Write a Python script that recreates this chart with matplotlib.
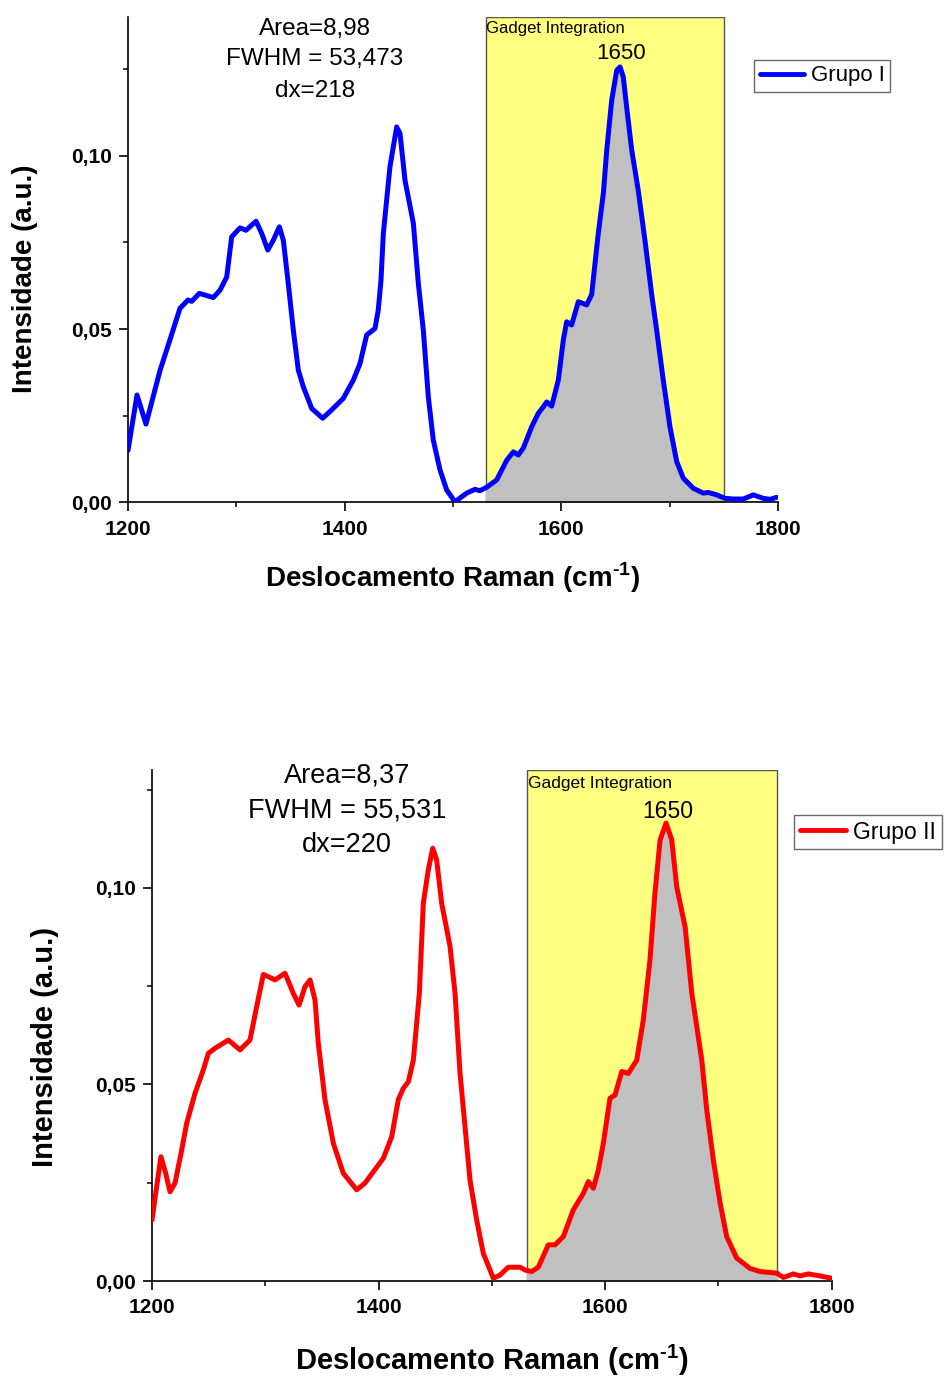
import numpy as np
import matplotlib
matplotlib.use("Agg")
import matplotlib.pyplot as plt
from matplotlib.patches import Rectangle
from matplotlib.ticker import MultipleLocator, FuncFormatter

plt.rcParams['font.family'] = ['Liberation Sans', 'DejaVu Sans']
plt.rcParams['mathtext.fontset'] = 'custom'
plt.rcParams['mathtext.rm'] = 'Liberation Sans:bold'
plt.rcParams['mathtext.bf'] = 'Liberation Sans:bold'

# Grupo I spectrum
x1 = [1200.0, 1208.3, 1216.6, 1229.5, 1238.8, 1248.0, 1255.4, 1258.8, 1265.8, 1278.7,
      1284.9, 1291.1, 1295.7, 1303.4, 1308.9, 1318.2, 1323.4, 1329.0, 1334.1, 1339.7,
      1343.4, 1348.0, 1352.6, 1357.2, 1361.8, 1369.6, 1379.7, 1388.0, 1398.7, 1408.0,
      1414.2, 1420.3, 1428.0, 1431.0, 1433.5, 1435.7, 1441.8, 1448.0, 1451.1, 1455.7,
      1463.4, 1468.0, 1472.6, 1477.2, 1481.8, 1488.0, 1494.2, 1501.8, 1512.6, 1520.3,
      1524.9, 1531.1, 1540.3, 1549.6, 1555.7, 1560.3, 1564.9, 1572.6, 1578.7, 1583.4,
      1586.5, 1591.1, 1597.2, 1601.8, 1604.9, 1609.5, 1615.7, 1623.4, 1628.0, 1634.1,
      1638.8, 1641.9, 1646.5, 1651.1, 1654.2, 1657.2, 1660.3, 1665.0, 1671.0, 1677.2,
      1683.4, 1688.0, 1694.1, 1700.3, 1706.5, 1712.6, 1721.8, 1731.1, 1735.7, 1743.4,
      1751.1, 1758.8, 1768.0, 1777.2, 1786.4, 1792.6, 1798.8]
y1 = [0.0150, 0.0310, 0.0226, 0.0380, 0.0470, 0.0560, 0.0584, 0.0580, 0.0603, 0.0591,
      0.0612, 0.0650, 0.0766, 0.0792, 0.0785, 0.0811, 0.0776, 0.0728, 0.0756, 0.0795,
      0.0756, 0.0630, 0.0497, 0.0382, 0.0334, 0.0271, 0.0243, 0.0267, 0.0300, 0.0353,
      0.0401, 0.0483, 0.0502, 0.0555, 0.0640, 0.0776, 0.0968, 0.1083, 0.1064, 0.0929,
      0.0805, 0.0632, 0.0497, 0.0305, 0.0180, 0.0094, 0.0036, 0.0002, 0.0027, 0.0038,
      0.0034, 0.0044, 0.0065, 0.0122, 0.0146, 0.0137, 0.0157, 0.0218, 0.0257, 0.0276,
      0.0290, 0.0278, 0.0353, 0.0468, 0.0521, 0.0512, 0.0579, 0.0570, 0.0600, 0.0776,
      0.0892, 0.1016, 0.1160, 0.1246, 0.1256, 0.1227, 0.1140, 0.1016, 0.0900, 0.0756,
      0.0600, 0.0497, 0.0353, 0.0218, 0.0118, 0.0070, 0.0041, 0.0027, 0.0029, 0.0022,
      0.0012, 0.0010, 0.0010, 0.0022, 0.0012, 0.0009, 0.0015]

# Grupo II spectrum
x2 = [1200.0, 1204.1, 1207.9, 1212.1, 1215.9, 1220.3, 1226.2, 1230.6, 1238.0, 1245.3,
      1249.7, 1255.6, 1267.4, 1277.7, 1286.5, 1292.4, 1298.3, 1308.6, 1317.4, 1324.7,
      1329.8, 1335.1, 1339.5, 1343.9, 1346.8, 1352.7, 1360.1, 1368.9, 1380.7, 1388.0,
      1395.4, 1404.2, 1411.6, 1417.4, 1421.8, 1426.3, 1430.7, 1436.0, 1439.5, 1443.9,
      1447.8, 1451.3, 1455.7, 1463.1, 1467.5, 1471.9, 1480.7, 1486.6, 1492.5, 1501.3,
      1507.2, 1514.5, 1524.9, 1529.3, 1535.2, 1541.0, 1549.8, 1555.8, 1563.1, 1571.9,
      1580.8, 1585.2, 1589.6, 1594.0, 1598.4, 1604.3, 1608.7, 1614.7, 1620.5, 1627.9,
      1633.7, 1639.6, 1644.0, 1648.5, 1653.8, 1658.8, 1663.2, 1670.6, 1676.5, 1685.3,
      1689.7, 1695.5, 1701.5, 1707.3, 1716.2, 1727.9, 1736.8, 1751.5, 1757.4, 1766.2,
      1772.1, 1779.4, 1789.7, 1800.0]
y2 = [0.0155, 0.0240, 0.0316, 0.0274, 0.0227, 0.0249, 0.0333, 0.0401, 0.0478, 0.0537,
      0.0579, 0.0592, 0.0613, 0.0588, 0.0613, 0.0698, 0.0780, 0.0766, 0.0783, 0.0732,
      0.0702, 0.0749, 0.0766, 0.0715, 0.0605, 0.0461, 0.0350, 0.0274, 0.0232, 0.0249,
      0.0278, 0.0312, 0.0367, 0.0461, 0.0490, 0.0507, 0.0562, 0.0732, 0.0961, 0.1046,
      0.1101, 0.1071, 0.0961, 0.0851, 0.0732, 0.0529, 0.0257, 0.0155, 0.0070, 0.0007,
      0.0015, 0.0035, 0.0035, 0.0028, 0.0024, 0.0035, 0.0092, 0.0092, 0.0113, 0.0181,
      0.0223, 0.0253, 0.0236, 0.0282, 0.0350, 0.0465, 0.0473, 0.0533, 0.0528, 0.0562,
      0.0664, 0.0817, 0.0987, 0.1122, 0.1165, 0.1122, 0.1003, 0.0901, 0.0732, 0.0562,
      0.0435, 0.0308, 0.0198, 0.0113, 0.0058, 0.0032, 0.0024, 0.0020, 0.0009, 0.0018,
      0.0013, 0.0018, 0.0013, 0.0007]

gadget1 = (1530, 1750)
gadget2 = (1531, 1752)
notes1 = ["Area=8,98", "FWHM = 53,473", "dx=218"]
notes2 = ["Area=8,37", "FWHM = 55,531", "dx=220"]

W, H = 946, 1378
fig = plt.figure(figsize=(W / 100, H / 100), dpi=100)

def fx(px):
    return px / W

def fy(py):
    return 1 - py / H

def comma(v, pos):
    return ("%.2f" % v).replace(".", ",")

def make_panel(rect, x, y, ymax, gadget, color, label, fs, ylab_y):
    ax = fig.add_axes(rect)
    ax.set_xlim(1200, 1800)
    ax.set_ylim(0, ymax)
    for s in ['top', 'right']:
        ax.spines[s].set_visible(False)
    for s in ['left', 'bottom']:
        ax.spines[s].set_linewidth(1.2)
    ax.xaxis.set_major_locator(MultipleLocator(200))
    ax.xaxis.set_minor_locator(MultipleLocator(100))
    ax.yaxis.set_major_locator(MultipleLocator(0.05))
    ax.yaxis.set_minor_locator(MultipleLocator(0.025))
    ax.yaxis.set_major_formatter(FuncFormatter(comma))
    ax.tick_params(which='major', direction='out', length=6.5, width=1.2, labelsize=15, pad=5)
    ax.tick_params(axis='x', which='major', pad=6)
    ax.tick_params(which='minor', direction='out', length=3.5, width=1.1)
    for t in ax.get_xticklabels() + ax.get_yticklabels():
        t.set_fontweight('bold')

    box = Rectangle((gadget[0], 0), gadget[1] - gadget[0], ymax, facecolor='#FFFF80',
                    edgecolor='#555555', linewidth=1.0, zorder=1)
    ax.add_patch(box)
    fill = ax.fill_between(x, 0, y, color='#C0C0C0', linewidth=0, zorder=2)
    clip = Rectangle((gadget[0], 0), gadget[1] - gadget[0], ymax, transform=ax.transData)
    fill.set_clip_path(clip)
    ax.plot(x, y, color=color, linewidth=3.6, solid_joinstyle='round',
            solid_capstyle='round', zorder=3, label=label)

    ax.set_xlabel(r'Deslocamento Raman (cm$^{\text{-1}}$)', fontsize=fs, fontweight='bold')
    ax.set_ylabel('Intensidade (a.u.)', fontsize=fs, fontweight='bold')
    ax.xaxis.label.set_va('center')
    ax.yaxis.label.set_va('center')
    ax.xaxis.set_label_coords(0.5, -0.155)
    ax.yaxis.set_label_coords(-0.158, ylab_y)
    return ax

ax1 = make_panel([fx(128), fy(502.5), fx(778) - fx(128), (502.5 - 17) / H],
                 x1, y1, 0.14, gadget1, '#0000FF', 'Grupo I', 20, 0.461)
ax2 = make_panel([fx(152), fy(1281), fx(831.7) - fx(152), (1281 - 770) / H],
                 x2, y2, 0.13, gadget2, '#FF0000', 'Grupo II', 21, 0.458)

leg1 = ax1.legend(loc='center', bbox_to_anchor=(fx(822), fy(76)), bbox_transform=fig.transFigure,
                  fontsize=16, frameon=True, fancybox=False, handlelength=2.0,
                  borderpad=0.25, handletextpad=0.3, borderaxespad=0)
leg2 = ax2.legend(loc='center', bbox_to_anchor=(fx(868), fy(832)), bbox_transform=fig.transFigure,
                  fontsize=16.5, frameon=True, fancybox=False, handlelength=2.0,
                  borderpad=0.25, handletextpad=0.3, borderaxespad=0)
for leg in (leg1, leg2):
    leg.get_frame().set_edgecolor('#444444')
    leg.get_frame().set_linewidth(1.0)
    leg.get_lines()[0].set_linewidth(3.5)

for t, b in zip(notes1, [34.5, 65.5, 96.7]):
    fig.text(fx(315), fy(b), t, ha='center', va='baseline', fontsize=17.5)
for t, b in zip(notes2, [782.7, 817.7, 851.7]):
    fig.text(fx(347), fy(b), t, ha='center', va='baseline', fontsize=19.5)

fig.text(fx(486), fy(33.3), 'Gadget Integration', ha='left', va='baseline', fontsize=12)
fig.text(fx(621), fy(59.3), '1650', ha='center', va='baseline', fontsize=16)
fig.text(fx(528), fy(788.3), 'Gadget Integration', ha='left', va='baseline', fontsize=12.5)
fig.text(fx(668), fy(818.3), '1650', ha='center', va='baseline', fontsize=16.5)

fig.savefig('out.png', dpi=100)
